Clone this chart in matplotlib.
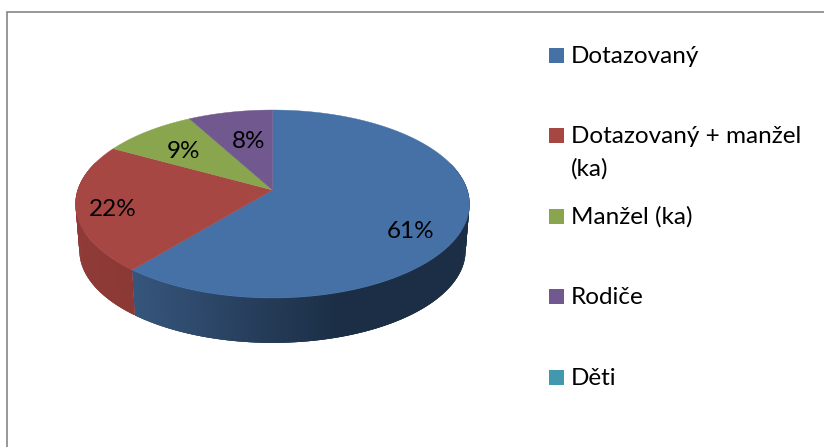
import numpy as np
import matplotlib
matplotlib.use("Agg")
import matplotlib.pyplot as plt
from matplotlib.patches import Polygon, Rectangle
from matplotlib.colors import to_rgb

categories = ["Dotazovaný", "Dotazovaný + manžel\n(ka)", "Manžel (ka)", "Rodiče", "Děti"]
values = [61, 22, 9, 8, 0]
colors = ["#4571A6", "#A64744", "#89A54E", "#71588F", "#4198AF"]
wall_light = ["#36557C", "#8F3A37", "#6F8540", "#5A4672", "#33788B"]
wall_dark = ["#1B2E45", "#833532", "#5F7237", "#4C3B60", "#2A6373"]

# layout (pixels)
W, H = 824, 447
AX, AY = 272.5, 190.0     # apex of the pie top
A, B, K = 91.9, 194.8, 0.149   # projection of the tilted disc
DEPTH, SHRINK = 47.0, 0.98
label_pos = [(411, 231), (113, 209), (184, 151), (249, 142)]
legend_x, legend_text_x = 549, 571
legend_y = [48, 128, 209, 289, 370]
LINE_GAP = 33
FS = 17.5


def project(theta, scale=1.0, dy=0.0):
    d = 1 + K * np.cos(theta)
    return AX + scale * B * np.sin(theta) / d, AY + dy - scale * A * np.cos(theta) / d


fig = plt.figure(figsize=(W / 100, H / 100), dpi=100)
ax = fig.add_axes([0, 0, 1, 1])
ax.set_xlim(0, W)
ax.set_ylim(H, 0)
ax.axis("off")

ax.plot([7.5, 7.5, W], [H, 11.8, 11.8], color="#868686", lw=1.2, zorder=1,
        solid_joinstyle="miter", solid_capstyle="butt")

fr = np.cumsum([0] + values) / sum(values) * 2 * np.pi

# side wall: strips overlap the next one so that no seams show
for i in range(len(values)):
    if values[i] == 0:
        continue
    n = max(int((fr[i + 1] - fr[i]) / 0.006), 2)
    th = np.linspace(fr[i], fr[i + 1], n + 1)
    c0, c1 = np.array(to_rgb(wall_light[i])), np.array(to_rgb(wall_dark[i]))
    step = th[1] - th[0]
    for j, t0 in enumerate(th[:-1]):
        t1 = t0 + step * (3 if j < n - 1 else 1)
        t1 = min(t1, fr[i + 1])
        if np.cos(t0) > 0.3:
            continue
        x0, y0 = project(t0)
        x1, y1 = project(t1)
        x2, y2 = project(t1, SHRINK, DEPTH)
        x3, y3 = project(t0, SHRINK, DEPTH)
        f = np.clip((135 - x0) / (135 - 340) if i == 0 else (80 - x0) / (80 - 135) * 0.3, 0, 1)
        c = c0 + (c1 - c0) * f
        ax.add_patch(Polygon([(x0, y0), (x1, y1), (x2, y2), (x3, y3)], closed=True,
                             fc=c, ec="none", zorder=2))

# top face
for i in range(len(values)):
    if values[i] == 0:
        continue
    th = np.linspace(fr[i], fr[i + 1], 200)
    xs, ys = project(th)
    pts = np.column_stack([np.r_[AX, xs], np.r_[AY, ys]])
    ax.add_patch(Polygon(pts, closed=True, fc=colors[i], ec=colors[i], lw=0.3, zorder=3))

font = ["Lato", "DejaVu Sans"]
for v, (x, y) in zip(values, label_pos):
    ax.text(x, y, f"{v}%", ha="center", va="center", fontsize=FS, family=font, color="black", zorder=4)

for name, c, y in zip(categories, colors, legend_y):
    ax.add_patch(Rectangle((legend_x, y), 15, 15, fc=c, ec="none", zorder=4))
    for k, line in enumerate(name.split("\n")):
        ax.text(legend_text_x, y + 15 + k * LINE_GAP, line, ha="left", va="baseline", fontsize=FS,
                family=font, color="black", zorder=4)

fig.savefig("out.png", dpi=100, facecolor="white")
